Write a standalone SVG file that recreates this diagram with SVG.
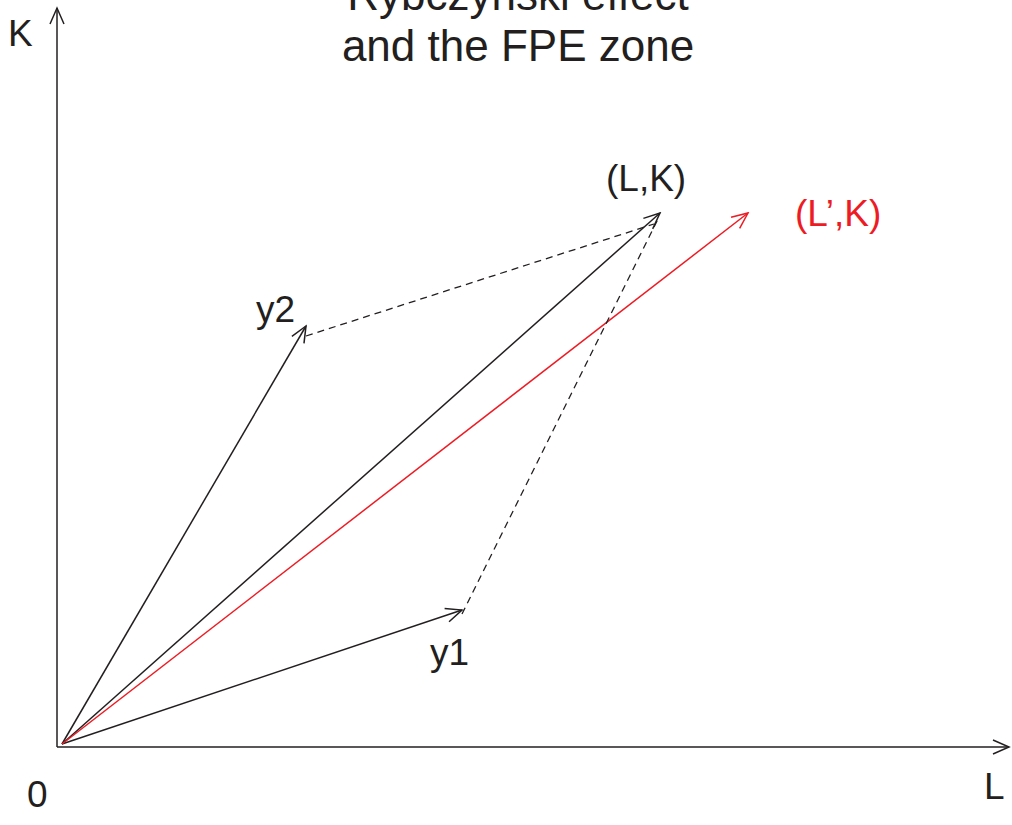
<svg xmlns="http://www.w3.org/2000/svg" width="1012" height="825" viewBox="0 0 1012 825">
<style>
text{font-family:"Liberation Sans",Arial,sans-serif;fill:#231f20}
.lbl{font-size:37px}
.ttl{font-size:44px}
.ln{stroke:#231f20;stroke-width:1.5;fill:none}
.red{stroke:#ed1c24;stroke-width:1.5;fill:none}
.dash{stroke:#231f20;stroke-width:1.3;fill:none;stroke-dasharray:7,5}
</style>
<defs>
<marker id="ah" viewBox="0 0 20 20" refX="18" refY="10" markerWidth="20" markerHeight="20" markerUnits="userSpaceOnUse" orient="auto">
<path d="M2,3 L18,10 L2,17" fill="none" stroke="#231f20" stroke-width="1.5"/>
</marker>
<marker id="ahr" viewBox="0 0 20 20" refX="18" refY="10" markerWidth="20" markerHeight="20" markerUnits="userSpaceOnUse" orient="auto">
<path d="M2,3 L18,10 L2,17" fill="none" stroke="#ed1c24" stroke-width="1.5"/>
</marker>
</defs>
<g id="title">
<text class="ttl" x="518" y="10" text-anchor="middle">Rybczynski effect</text>
<text class="ttl" x="518" y="61" text-anchor="middle">and the FPE zone</text>
</g>
<g id="connectors">
<path id="axis-k" class="ln" d="M57,747 L57,8" marker-end="url(#ah)"/>
<path id="axis-l" class="ln" d="M57,747 L1009,747" marker-end="url(#ah)"/>
<path id="vec-y2" class="ln" d="M62,744 L306,326" marker-end="url(#ah)"/>
<path id="vec-y1" class="ln" d="M62,744 L462,610" marker-end="url(#ah)"/>
<path id="vec-LK" class="ln" d="M62,744 L660,213" marker-end="url(#ah)"/>
<path id="vec-LpK" class="red" d="M62,744 L748,213" marker-end="url(#ahr)"/>
<path id="dash-y2" class="dash" d="M306,336 L654,224"/>
<path id="dash-y1" class="dash" d="M462,614 L659,217"/>
</g>
<g id="label-K"><text class="lbl" x="8" y="46">K</text></g>
<g id="label-L"><text class="lbl" x="984" y="799">L</text></g>
<g id="label-0"><text class="lbl" x="27" y="807">0</text></g>
<g id="label-y2"><text class="lbl" x="256" y="322">y2</text></g>
<g id="label-y1"><text class="lbl" x="430" y="665">y1</text></g>
<g id="label-LK"><text class="lbl" x="606" y="191">(L,K)</text></g>
<g id="label-LpK"><text class="lbl" x="795" y="226" style="fill:#ed1c24">(L’,K)</text></g>
</svg>
